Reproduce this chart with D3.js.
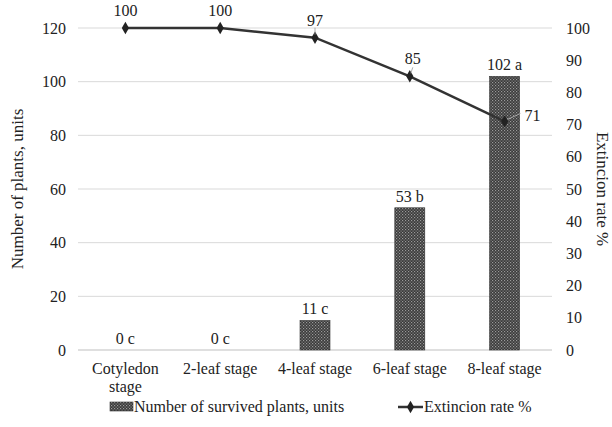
<!DOCTYPE html>
<html>
<head>
<meta charset="utf-8">
<script src="https://cdn.jsdelivr.net/npm/d3@7"></script>
</head>
<body style="margin:0">
<svg id="chart" width="612" height="427" font-family="Liberation Serif"></svg>
<script>
var stages = ["Cotyledon stage", "2-leaf stage", "4-leaf stage", "6-leaf stage", "8-leaf stage"];
var survived = [0, 0, 11, 53, 102];
var letters = ["c", "c", "c", "b", "a"];
var extinction = [100, 100, 97, 85, 71];
var leftTicks = [0, 20, 40, 60, 80, 100, 120];
var rightTicks = [0, 10, 20, 30, 40, 50, 60, 70, 80, 90, 100];

var FONT = "Liberation Serif";
var fs = 16;

var margin = {top: 28, right: 60, bottom: 77, left: 78},
    width = 612 - margin.left - margin.right,
    height = 427 - margin.top - margin.bottom;

var svg = d3.select("#chart");
var defs = svg.append("defs");

// dotted fill like the original bars
var pat = defs.append("pattern")
    .attr("id", "dots")
    .attr("width", 3).attr("height", 3)
    .attr("patternUnits", "userSpaceOnUse");
pat.append("rect").attr("width", 3).attr("height", 3).attr("fill", "#3a3a3a");
pat.append("rect").attr("x", 0).attr("y", 0).attr("width", 1.2).attr("height", 1.2).attr("fill", "#9a9a9a");
pat.append("rect").attr("x", 1.5).attr("y", 1.5).attr("width", 1.2).attr("height", 1.2).attr("fill", "#8a8a8a");

var g = svg.append("g").attr("transform", "translate(" + margin.left + "," + margin.top + ")");

var x = d3.scaleBand().domain(stages).range([0, width]);
var yL = d3.scaleLinear().domain([0, 120]).range([height, 0]);
var yR = d3.scaleLinear().domain([0, 100]).range([height, 0]);

function txt(sel, size) {
  return sel.attr("font-family", FONT)
      .style("font-family", "'" + FONT + "'")
      .attr("font-size", size || fs)
      .attr("fill", "#222");
}

// gridlines
g.selectAll(".grid").data(leftTicks).enter().append("line")
    .attr("x1", 0).attr("x2", width)
    .attr("y1", function(d) { return yL(d); })
    .attr("y2", function(d) { return yL(d); })
    .attr("stroke", function(d) { return d == 0 ? "#bfbfbf" : "#d9d9d9"; })
    .attr("stroke-width", 1);

// left axis
var axL = g.append("g").call(d3.axisLeft(yL).tickValues(leftTicks).tickSize(0).tickPadding(12));
axL.attr("font-family", FONT).attr("font-size", fs);
axL.select(".domain").remove();
txt(axL.selectAll("text"));

// right axis
var axR = g.append("g").attr("transform", "translate(" + width + ",0)")
    .call(d3.axisRight(yR).tickValues(rightTicks).tickSize(0).tickPadding(14));
axR.attr("font-family", FONT).attr("font-size", fs);
axR.select(".domain").remove();
txt(axR.selectAll("text"));

// category labels
var cat = g.selectAll(".cat").data(stages).enter().append("text")
    .attr("text-anchor", "middle")
    .attr("x", function(d) { return x(d) + x.bandwidth() / 2; })
    .attr("y", height + 24);
txt(cat);
cat.each(function(d) {
  var parts = d == "Cotyledon stage" ? ["Cotyledon", "stage"] : [d];
  var t = d3.select(this);
  parts.forEach(function(p, i) {
    t.append("tspan").attr("x", t.attr("x")).attr("dy", i == 0 ? 0 : 18).text(p);
  });
});

// bars
var barW = 30;
g.selectAll(".bar").data(survived).enter().append("rect")
    .attr("x", function(d, i) { return x(stages[i]) + x.bandwidth() / 2 - barW / 2; })
    .attr("y", function(d) { return yL(d); })
    .attr("width", barW)
    .attr("height", function(d) { return height - yL(d); })
    .attr("fill", "url(#dots)")
    .attr("stroke", "#333").attr("stroke-width", 0.6);

txt(g.selectAll(".blab").data(survived).enter().append("text")
    .attr("text-anchor", "middle")
    .attr("x", function(d, i) { return x(stages[i]) + x.bandwidth() / 2; })
    .attr("y", function(d) { return yL(d) - 6; })
    .text(function(d, i) { return d + " " + letters[i]; }));

// line
var line = d3.line()
    .x(function(d, i) { return x(stages[i]) + x.bandwidth() / 2; })
    .y(function(d) { return yR(d); });
g.append("path").datum(extinction)
    .attr("d", line)
    .attr("fill", "none").attr("stroke", "#333").attr("stroke-width", 2.5);

g.selectAll(".mark").data(extinction).enter().append("path")
    .attr("d", d3.symbol().type(d3.symbolDiamond).size(45))
    .attr("transform", function(d, i) {
      return "translate(" + (x(stages[i]) + x.bandwidth() / 2) + "," + yR(d) + ")";
    })
    .attr("fill", "#222");

// leader lines for labels that sit off the point
g.append("line")
    .attr("x1", x(stages[2]) + x.bandwidth() / 2).attr("x2", x(stages[2]) + x.bandwidth() / 2)
    .attr("y1", yR(extinction[2]) - 3).attr("y2", yR(extinction[2]) - 10)
    .attr("stroke", "#999").attr("stroke-width", 0.8);
g.append("line")
    .attr("x1", x(stages[3]) + x.bandwidth() / 2 + 1).attr("x2", x(stages[3]) + x.bandwidth() / 2 + 3)
    .attr("y1", yR(extinction[3]) - 3).attr("y2", yR(extinction[3]) - 9)
    .attr("stroke", "#999").attr("stroke-width", 0.8);
g.append("line")
    .attr("x1", x(stages[4]) + x.bandwidth() / 2 + 3).attr("x2", x(stages[4]) + x.bandwidth() / 2 + 16)
    .attr("y1", yR(extinction[4]) - 2).attr("y2", yR(extinction[4]) - 8)
    .attr("stroke", "#bbb").attr("stroke-width", 0.8);

txt(g.selectAll(".llab").data(extinction).enter().append("text")
    .attr("text-anchor", function(d, i) { return i == 4 ? "start" : "middle"; })
    .attr("x", function(d, i) { return x(stages[i]) + x.bandwidth() / 2 + (i == 4 ? 20 : i == 3 ? 3 : 0); })
    .attr("y", function(d, i) { return i == 4 ? yR(d) : yR(d) - 12; })
    .text(function(d) { return d; }));

// axis titles
txt(svg.append("text")
    .attr("transform", "translate(23," + (margin.top + height / 2) + ") rotate(-90)")
    .attr("text-anchor", "middle")
    .text("Number of plants, units"), 17);
txt(svg.append("text")
    .attr("transform", "translate(597," + (margin.top + height / 2) + ") rotate(90)")
    .attr("text-anchor", "middle")
    .text("Extincion rate %"), 17);

// legend
var lg = svg.append("g").attr("transform", "translate(0,408)");
lg.append("rect").attr("x", 110).attr("y", -6).attr("width", 23).attr("height", 9)
    .attr("fill", "url(#dots)").attr("stroke", "#333").attr("stroke-width", 0.6);
txt(lg.append("text").attr("x", 134).attr("y", 4)
    .text("Number of survived plants, units"));
lg.append("line").attr("x1", 398).attr("x2", 423).attr("y1", -1).attr("y2", -1)
    .attr("stroke", "#333").attr("stroke-width", 2.5);
lg.append("path").attr("d", d3.symbol().type(d3.symbolDiamond).size(45))
    .attr("transform", "translate(410.5,-1)").attr("fill", "#222");
txt(lg.append("text").attr("x", 424).attr("y", 4)
    .text("Extincion rate %"));
</script>
</body>
</html>
